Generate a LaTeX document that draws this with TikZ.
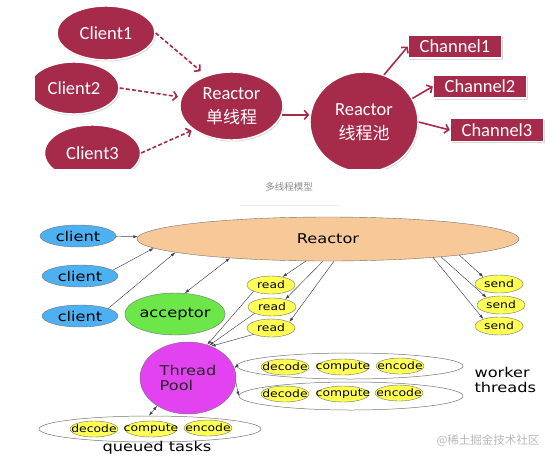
\documentclass[tikz,border=0pt]{standalone}
\usepackage{fontspec}
\setmainfont{DejaVu Sans}
\newfontfamily\calib{Carlito}
\newfontfamily\cjk{Noto Sans CJK SC}
\newfontfamily\wide[FakeStretch=1.2]{DejaVu Sans}
\usepackage{xcolor}
\usetikzlibrary{arrows.meta, shapes.geometric, shadows}

\definecolor{crimson}{RGB}{166,42,74}
\definecolor{peach}{RGB}{247,201,152}
\definecolor{skyblue}{RGB}{77,176,240}
\definecolor{limegreen}{RGB}{108,230,72}
\definecolor{lemon}{RGB}{255,255,84}
\definecolor{orchid}{RGB}{226,66,240}

\newcommand{\job}[1]{\makebox[0pt]{#1}}

\begin{document}
\begin{tikzpicture}[x=1pt, y=-1pt, >=Latex]
    % Define styles for the single threaded picture and the pool picture
    \tikzstyle{redblob} = [ellipse, fill=crimson, draw=white, line width=1.4pt, text=white, inner sep=0pt, align=center, font=\calib\fontsize{18.5}{24}\selectfont, drop shadow={opacity=0.3, shadow xshift=1pt, shadow yshift=-1.5pt}]
    \tikzstyle{redbox} = [rectangle, fill=crimson, draw=white, line width=1.4pt, text=white, minimum width=93pt, minimum height=23pt, inner sep=0pt, font=\calib\fontsize{18.5}{22}\selectfont, drop shadow={opacity=0.3, shadow xshift=1pt, shadow yshift=-1.5pt}]
    \tikzstyle{dashlink} = [draw=crimson, line width=1.6pt, dash pattern=on 4pt off 2.2pt, -{Straight Barb[length=4pt,width=9pt]}]
    \tikzstyle{redlink} = [draw=crimson, line width=1.6pt, -{Straight Barb[length=4pt,width=9pt]}]
    \tikzstyle{blob} = [ellipse, draw=black!55, line width=0.4pt, inner sep=0pt, align=left, font=\wide\fontsize{13.5}{15}\selectfont]
    \tikzstyle{yellowblob} = [blob, fill=lemon, minimum width=48pt, minimum height=18pt, font=\wide\fontsize{10.3}{12}\selectfont]
    \tikzstyle{taskring} = [ellipse, draw=black!55, line width=0.5pt, fill=white, inner sep=0pt]
    \tikzstyle{link} = [draw=black!75, line width=0.45pt, -{Latex[length=4.5pt,width=3pt]}]
    \tikzstyle{dlink} = [draw=black!75, line width=0.45pt, {Latex[length=4.5pt,width=3pt]}-{Latex[length=4.5pt,width=3pt]}]

    \useasboundingbox (0,0) rectangle (553,461);

    % Single threaded reactor and reactor pool
    \begin{scope}
    \clip (35,0) rectangle (553,168);
    \node [redblob, minimum width=98pt, minimum height=54pt] (client1) at (106,33) {Client1};
    \node [redblob, minimum width=90pt, minimum height=52pt] (client2) at (74,88) {Client2};
    \node [redblob, minimum width=96pt, minimum height=56pt] (client3) at (92.5,153) {Client3};
    \node [redblob, minimum width=103pt, minimum height=68pt] (single) at (231.5,106) {Reactor\\{\cjk\fontsize{17}{24}\selectfont 单线程}};
    \node [redblob, minimum width=108pt, minimum height=100pt] (pool1) at (364,122) {Reactor\\{\cjk\fontsize{17}{24}\selectfont 线程池}};
    \node [redbox] (chan1) at (455,46.5) {Channel1};
    \node [redbox] (chan2) at (480,86.5) {Channel2};
    \node [redbox] (chan3) at (497,130) {Channel3};

    \draw[dashlink, shorten >=7pt] (client1.east) -- (single.130);
    \draw[dashlink, shorten >=3pt] (client2.east) -- (single.170);
    \draw[dashlink, shorten >=2pt] (client3.east) -- (single.212);
    \draw[redlink] (single.-10) -- (single.-10 -| pool1.west);
    \draw[redlink] (pool1.67) -- (chan1.west);
    \draw[redlink] (pool1.26) -- (chan2.west);
    \draw[redlink] (pool1.east) -- (chan3.west);
    \end{scope}

    % Caption
    \node [text=black!45, font=\cjk\fontsize{9.5}{11}\selectfont] (caption) at (289,187) {多线程模型};
    \draw[black!7, line width=0.8pt] (240,205) -- (340,205);

    % Multi threaded nodes
    \node [blob, fill=peach, minimum width=382pt, minimum height=44pt] (reactor) at (328,239) {Reactor};
    \node [blob, fill=skyblue, minimum width=76pt, minimum height=22pt] (clientA) at (78,236) {client};
    \node [blob, fill=skyblue, minimum width=76pt, minimum height=22pt] (clientB) at (80,276) {client};
    \node [blob, fill=skyblue, minimum width=76pt, minimum height=22pt] (clientC) at (80,316) {client};
    \node [blob, fill=limegreen, minimum width=96pt, minimum height=42pt] (acceptor) at (175,314) {acceptor};
    \node [yellowblob] (read1) at (271,285) {read};
    \node [yellowblob] (read2) at (272,307) {read};
    \node [yellowblob] (read3) at (271,328) {read};
    \node [yellowblob] (send1) at (499,284) {send};
    \node [yellowblob] (send2) at (501,305) {send};
    \node [yellowblob] (send3) at (499,326) {send};
    \node [blob, fill=orchid, text=black!85, minimum width=96pt, minimum height=72pt] (pool) at (188,378) {Thread\\Pool};

    % Worker threads and queued tasks
    \node [taskring, minimum width=226pt, minimum height=26pt] (worker1) at (350,366) {};
    \node [taskring, minimum width=224pt, minimum height=28pt] (worker2) at (351,396) {};
    \node [taskring, minimum width=222pt, minimum height=26pt] (queue) at (150,429) {};
    \node [yellowblob, minimum height=16pt] (decode1) at (285,367) {\job{decode}};
    \node [yellowblob, minimum height=16pt, minimum width=52pt] (compute1) at (343,367) {\job{compute}};
    \node [yellowblob, minimum height=16pt] (encode1) at (400,366) {\job{encode}};
    \node [yellowblob, minimum height=16pt] (decode2) at (285,394) {\job{decode}};
    \node [yellowblob, minimum height=16pt, minimum width=52pt] (compute2) at (343,394) {\job{compute}};
    \node [yellowblob, minimum height=16pt] (encode2) at (399,393) {\job{encode}};
    \node [yellowblob, minimum height=16pt] (decode3) at (94,429) {\job{decode}};
    \node [yellowblob, minimum height=16pt, minimum width=52pt] (compute3) at (151,429) {\job{compute}};
    \node [yellowblob, minimum height=16pt] (encode3) at (208,428) {\job{encode}};
    \node [anchor=west, align=left, font=\wide\fontsize{13.5}{14.5}\selectfont] (workerlabel) at (471,380) {worker\\threads};
    \node [font=\wide\fontsize{13.5}{15}\selectfont] (queuelabel) at (157,448) {queued tasks};
    \node [text=black!28, font=\cjk\fontsize{11.5}{13}\selectfont] (mark) at (488,441) {@稀土掘金技术社区};

    % Draw edges
    \draw[link] (clientA) -- (reactor);
    \draw[link] (clientB.10) -- (reactor.183);
    \draw[link] (clientC.15) -- (reactor.185);
    \draw[dlink] (reactor.191) -- (acceptor.65);
    \draw[link] (reactor.225) -- (read1.35);
    \draw[link] (reactor.257) -- (read2.30);
    \draw[link] (reactor.285) -- (read3.18);
    \draw[link] (read1.200) -- (pool.60);
    \draw[link] (read2.200) -- (pool.57);
    \draw[link] (read3.200) -- (pool.54);
    \draw[link] (reactor.-7) -- (send1.156);
    \draw[link] (reactor.-9) -- (send2.153);
    \draw[link] (reactor.-10.5) -- (send3.156);
    \draw[link] (worker1.west) -- (pool.12);
    \draw[link] (pool.-5) -- (worker2.west);
    \draw[dlink] (pool.222) -- (queue.95);
\end{tikzpicture}
\end{document}
